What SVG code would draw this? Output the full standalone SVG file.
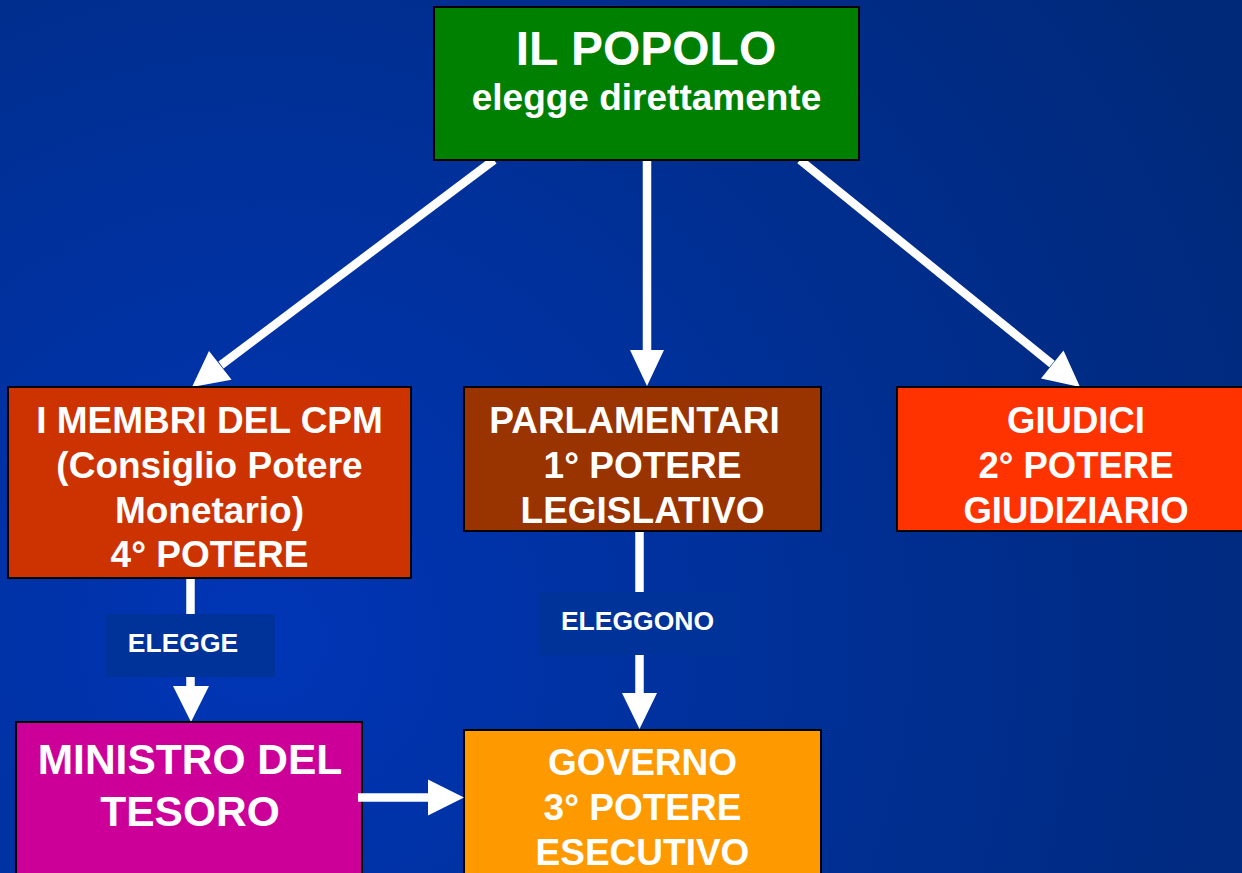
<svg xmlns="http://www.w3.org/2000/svg" width="1242" height="873" viewBox="0 0 1242 873">
  <defs>
    <radialGradient id="bg" gradientUnits="userSpaceOnUse" cx="260" cy="640" r="1100">
      <stop offset="0" stop-color="#0035B6"/>
      <stop offset="0.55" stop-color="#002F93"/>
      <stop offset="1" stop-color="#00297A"/>
    </radialGradient>
  </defs>
  <style>
    .box { stroke: #000; stroke-width: 2; }
    .t { font-family: "Liberation Sans", Arial, sans-serif; font-weight: bold; fill: #fff; text-anchor: middle; }
    .ln { stroke: #fff; stroke-width: 8.5; fill: none; }
    .hd { fill: #fff; }
    .lab { fill: #003399; }
  </style>
  <rect x="0" y="0" width="1242" height="873" fill="url(#bg)"/>

  <g id="connectors">
    <line class="ln" x1="494" y1="160" x2="221" y2="365"/>
    <polygon class="hd" points="192,387 209,351 231.6,379.8"/>
    <line class="ln" x1="647" y1="160" x2="647" y2="352"/>
    <polygon class="hd" points="647,386 630,350 664,350"/>
    <line class="ln" x1="800" y1="160" x2="1052" y2="364"/>
    <polygon class="hd" points="1080,387 1041,378.5 1063.5,350.5"/>
    <line class="ln" x1="190.5" y1="578" x2="190.5" y2="688"/>
    <polygon class="hd" points="191,722 173,686 209,686"/>
    <line class="ln" x1="639.5" y1="531" x2="639.5" y2="695"/>
    <polygon class="hd" points="639.5,729 622,693 657,693"/>
    <g id="label-elegge">
      <rect class="lab" x="106" y="614" width="169" height="63"/>
      <text class="t" x="183" y="652" font-size="26.5">ELEGGE</text>
    </g>
    <g id="label-eleggono">
      <rect class="lab" x="540" y="592" width="200" height="63"/>
      <text class="t" x="637.5" y="630" font-size="26.5">ELEGGONO</text>
    </g>
  </g>

  <g id="popolo">
    <rect class="box" x="434" y="7" width="425" height="153" fill="#008000"/>
    <text class="t" x="646" y="65" font-size="48">IL POPOLO</text>
    <text class="t" x="646.5" y="110" font-size="37">elegge direttamente</text>
  </g>

  <g id="cpm">
    <rect class="box" x="8" y="387" width="403" height="191" fill="#CC3300"/>
    <text class="t" x="209.5" y="433" font-size="37">I MEMBRI DEL CPM</text>
    <text class="t" x="209.5" y="478" font-size="37">(Consiglio Potere</text>
    <text class="t" x="209.5" y="523" font-size="37">Monetario)</text>
    <text class="t" x="209.5" y="567" font-size="37">4° POTERE</text>
  </g>

  <g id="parlamentari">
    <rect class="box" x="464" y="387" width="357" height="144" fill="#993300"/>
    <text class="t" x="634.5" y="433" font-size="37">PARLAMENTARI</text>
    <text class="t" x="642.5" y="478" font-size="37">1° POTERE</text>
    <text class="t" x="642.5" y="523" font-size="37">LEGISLATIVO</text>
  </g>

  <g id="giudici">
    <rect class="box" x="897" y="387" width="350" height="144" fill="#FF3300"/>
    <text class="t" x="1076" y="433" font-size="36.5">GIUDICI</text>
    <text class="t" x="1076" y="478" font-size="36.5">2° POTERE</text>
    <text class="t" x="1076" y="523" font-size="36.5">GIUDIZIARIO</text>
  </g>

  <g id="ministro">
    <rect class="box" x="16" y="722" width="346" height="160" fill="#CC0099"/>
    <text class="t" x="190" y="774" font-size="42.5">MINISTRO DEL</text>
    <text class="t" x="190" y="826" font-size="42.5">TESORO</text>
  </g>

  <g id="governo">
    <rect class="box" x="464" y="730" width="357" height="150" fill="#FF9900"/>
    <text class="t" x="642.5" y="775" font-size="37">GOVERNO</text>
    <text class="t" x="642.5" y="820" font-size="37">3° POTERE</text>
    <text class="t" x="642.5" y="865" font-size="37">ESECUTIVO</text>
  </g>

  <g id="connector-ministro-governo">
    <line class="ln" x1="358" y1="797.5" x2="430" y2="797.5"/>
    <polygon class="hd" points="464,797.5 428,779.5 428,815.5"/>
  </g>
</svg>
